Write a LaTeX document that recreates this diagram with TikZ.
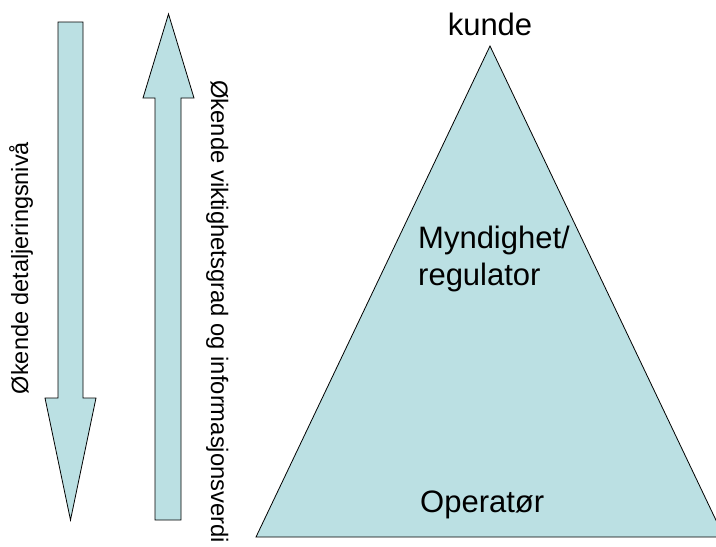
\documentclass[tikz,border=0pt]{standalone}
\usepackage{fontspec}
\setmainfont{Liberation Sans}
\definecolor{paleteal}{RGB}{187,224,227}
\tikzset{
  shapefill/.style={fill=paleteal, draw=black, line width=0.8pt, line join=miter},
  bigtext/.style={font=\fontsize{31}{37}\selectfont, inner sep=0pt},
  sidetext/.style={font=\fontsize{23.5}{28}\selectfont, inner sep=0pt},
  sidetextb/.style={font=\fontsize{23.8}{28}\selectfont, inner sep=0pt}
}
\begin{document}
\begin{tikzpicture}[x=1pt, y=-1pt]
  \useasboundingbox (0,0) rectangle (716,547);

  % downward arrow
  \path[shapefill] (58,22) -- (83,22) -- (83,398) -- (96,398) -- (70.5,520)
    -- (45,398) -- (58,398) -- cycle;
  % upward arrow
  \path[shapefill] (168.5,14) -- (194,98) -- (181,98) -- (181,520)
    -- (155,520) -- (155,98) -- (143,98) -- cycle;

  % pyramid
  \path[shapefill] (490,46) -- (724,537) -- (256,537) -- cycle;

  % side captions
  \node[sidetext, rotate=90, anchor=base] (down) at (28,268) {Økende detaljeringsnivå};
  \node[sidetextb, rotate=-90, anchor=base west] (up) at (211,80)
    {Økende viktighetsgrad og informasjonsverdi};

  % pyramid levels
  \node[bigtext, anchor=base] (top) at (490,35) {kunde};
  \node[bigtext, anchor=base west] (mid) at (418,248) {Myndighet/};
  \node[bigtext, anchor=base west] (mid2) at (418,285) {regulator};
  \node[bigtext, anchor=base west] (bottom) at (420,512) {Operatør};
\end{tikzpicture}
\end{document}
